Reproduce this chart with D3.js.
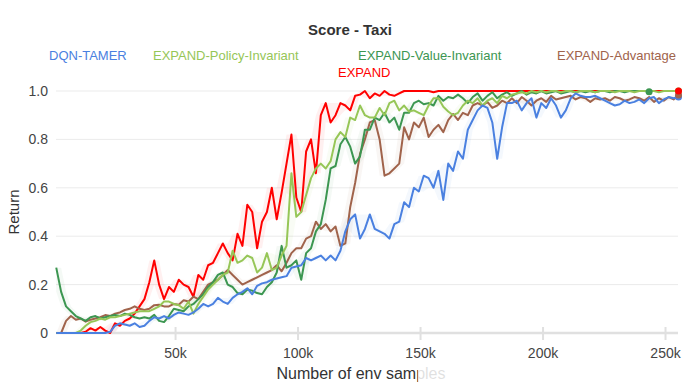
<!DOCTYPE html>
<html lang="en">
<head>
<meta charset="UTF-8">
<title>Score - Taxi</title>
<style>
body { margin: 0; background: #fff; }
text { font-family: "Liberation Sans", Arial, sans-serif; }
.grid line { stroke: #ebebeb; stroke-width: 1px; }
.line { fill: none; stroke-width: 2px; stroke-linejoin: round; }
</style>
</head>
<body>
<svg id="main" width="700" height="392"></svg>
<script src="https://cdn.jsdelivr.net/npm/d3@7/dist/d3.min.js"></script>
<script>
// env samples, one point every 2k
var samples = d3.range(128).map(function(i) { return 1500 + i * 2000; });

var yTicks = [0, 0.2, 0.4, 0.6, 0.8, 1.0];
var xTicks = [50000, 100000, 150000, 200000, 250000];

var dqnTamer = [
    0, 0, 0, 0, 0, 0, 0, 0, 0, 0, 0, 0.005, 0.03, 0.04, 0.035, 0.03,
    0.04, 0.025, 0.03, 0.05, 0.065, 0.06, 0.07, 0.06, 0.075, 0.085, 0.08, 0.075, 0.085, 0.1, 0.12, 0.11,
    0.12, 0.145, 0.13, 0.12, 0.145, 0.16, 0.17, 0.185, 0.16, 0.195, 0.205, 0.21, 0.22, 0.225, 0.23, 0.235,
    0.27, 0.275, 0.28, 0.31, 0.3, 0.31, 0.32, 0.3, 0.32, 0.3, 0.34, 0.42, 0.47, 0.49, 0.39, 0.43,
    0.49, 0.43, 0.42, 0.41, 0.39, 0.45, 0.46, 0.54, 0.52, 0.6, 0.585, 0.65, 0.64, 0.6, 0.67, 0.55,
    0.7, 0.67, 0.75, 0.72, 0.84, 0.88, 0.92, 0.94, 0.93, 0.87, 0.72, 0.85, 0.95, 0.95, 0.96, 0.92,
    0.95, 0.97, 0.89, 0.95, 0.93, 0.97, 0.94, 0.89, 0.92, 0.97, 0.99, 0.98, 0.975, 0.975, 0.98, 0.97,
    0.96, 0.95, 0.94, 0.945, 0.96, 0.95, 0.955, 0.965, 0.95, 0.97, 0.975, 0.95, 0.965, 0.975, 0.97, 0.975
];

var policyInv = [
    0, 0, 0, 0, 0, 0.01, 0.03, 0.045, 0.05, 0.06, 0.055, 0.065, 0.065, 0.07, 0.075, 0.08,
    0.085, 0.09, 0.09, 0.09, 0.1, 0.11, 0.13, 0.13, 0.12, 0.115, 0.1, 0.13, 0.08, 0.12, 0.15, 0.18,
    0.2, 0.22, 0.24, 0.25, 0.34, 0.29, 0.3, 0.32, 0.31, 0.25, 0.27, 0.33, 0.26, 0.27, 0.32, 0.36,
    0.66, 0.48, 0.5, 0.57, 0.64, 0.68, 0.7, 0.68, 0.71, 0.8, 0.83, 0.81, 0.89, 0.88, 0.94, 0.9,
    0.89, 0.89, 0.93, 0.9, 0.95, 0.96, 0.92, 0.94, 0.915, 0.92, 0.91, 0.9, 0.94, 0.97, 0.97, 0.935,
    0.915, 0.9, 0.91, 0.94, 0.96, 0.95, 0.97, 0.94, 0.96, 0.97, 0.95, 0.98, 0.97, 0.985, 0.99, 0.995,
    0.99, 1, 0.995, 1, 0.995, 1, 1, 0.995, 1, 1, 0.995, 1, 1, 1, 0.995, 1,
    1, 1, 0.995, 1, 1, 1, 0.995, 1, 1, 1, 1, 0.995, 1, 1, 1, 1
];

var valueInv = [
    0.27, 0.17, 0.11, 0.09, 0.07, 0.06, 0.05, 0.065, 0.07, 0.06, 0.065, 0.07, 0.075, 0.07, 0.08, 0.075,
    0.065, 0.06, 0.065, 0.06, 0.075, 0.05, 0.045, 0.07, 0.1, 0.095, 0.09, 0.11, 0.12, 0.14, 0.16, 0.19,
    0.21, 0.24, 0.25, 0.2, 0.19, 0.165, 0.16, 0.18, 0.175, 0.165, 0.16, 0.19, 0.21, 0.25, 0.36, 0.27,
    0.28, 0.3, 0.22, 0.33, 0.35, 0.42, 0.45, 0.55, 0.68, 0.69, 0.78, 0.81, 0.77, 0.7, 0.73, 0.84,
    0.84, 0.89, 0.88, 0.91, 0.87, 0.89, 0.84, 0.91, 0.91, 0.95, 0.96, 0.945, 0.95, 0.94, 0.98, 0.96,
    0.975, 0.97, 0.985, 0.97, 0.95, 0.975, 0.99, 0.96, 0.98, 0.995, 0.97, 0.985, 0.995, 0.98, 0.99, 1,
    0.985, 0.995, 0.99, 1, 0.99, 0.995, 1, 0.99, 0.995, 1, 0.995, 1, 0.995, 1, 0.995, 1,
    1, 0.995, 1, 1, 0.995, 1, 1, 1, 1, 0.997, null, null, null, null, null, null
];

var advantage = [
    0, 0, 0.05, 0.07, 0.055, 0.06, 0.047, 0.055, 0.06, 0.065, 0.074, 0.07, 0.08, 0.085, 0.095, 0.1,
    0.11, 0.1, 0.095, 0.1, 0.115, 0.117, 0.11, 0.11, 0.12, 0.117, 0.135, 0.13, 0.15, 0.14, 0.17, 0.2,
    0.21, 0.22, 0.24, 0.26, 0.24, 0.22, 0.2, 0.21, 0.22, 0.23, 0.24, 0.25, 0.26, 0.28, 0.255, 0.29,
    0.33, 0.35, 0.35, 0.39, 0.4, 0.46, 0.43, 0.45, 0.42, 0.44, 0.36, 0.37, 0.52, 0.62, 0.74, 0.8,
    0.87, 0.88, 0.8, 0.65, 0.66, 0.68, 0.7, 0.85, 0.8, 0.87, 0.85, 0.89, 0.81, 0.84, 0.86, 0.83,
    0.88, 0.905, 0.88, 0.91, 0.9, 0.94, 0.95, 0.94, 0.955, 0.93, 0.94, 0.96, 0.95, 0.97, 0.95, 0.975,
    0.96, 0.94, 0.96, 0.97, 0.955, 0.98, 0.965, 0.97, 0.975, 0.98, 0.965, 0.975, 0.97, 0.955, 0.97, 0.965,
    0.97, 0.96, 0.975, 0.97, 0.96, 0.965, 0.975, 0.97, 0.96, 0.975, 0.955, 0.97, 0.96, 0.975, 0.965, 0.983
];

var expand = [
    0, 0, 0, 0, 0, 0, 0.005, 0.02, 0.01, 0.025, 0.01, 0, 0.04, 0.03, 0.05, 0.06,
    0.08, 0.11, 0.14, 0.21, 0.3, 0.2, 0.14, 0.19, 0.17, 0.22, 0.2, 0.19, 0.15, 0.24, 0.22, 0.28,
    0.29, 0.33, 0.37, 0.33, 0.3, 0.41, 0.36, 0.53, 0.5, 0.35, 0.46, 0.5, 0.6, 0.47, 0.58, 0.7,
    0.82, 0.56, 0.5, 0.75, 0.8, 0.66, 0.9, 0.95, 0.87, 0.9, 0.95, 0.94, 0.92, 0.98, 0.985, 1,
    0.97, 0.99, 0.98, 1, 0.985, 0.98, 0.99, 1, 1, 1, 1, 1, 1, 0.995, 1, 1,
    1, 1, 1, 1, 1, 1, 1, 1, 1, 1, 1, 1, 1, 1, 1, 1,
    1, 1, 1, 1, 1, 1, 1, 1, 1, 1, 1, 1, 1, 1, 1, 1,
    1, 1, 1, 1, 1, 1, 1, 1, 1, 1, 1, 1, 1, 1, 1, 1
];

var series = [
    { name: "DQN-TAMER", color: "#4a80e0", values: dqnTamer },
    { name: "EXPAND-Policy-Invariant", color: "#96c657", values: policyInv },
    { name: "EXPAND-Value-Invariant", color: "#3c9651", values: valueInv },
    { name: "EXPAND-Advantage", color: "#a0634b", values: advantage },
    { name: "EXPAND", color: "#ff0000", values: expand }
];

// legend slots (layout only)
var legendPos = [[49, 55], [153, 55], [358, 55], [557, 55], [338, 72]];

var svg = d3.select("#main");

var x = d3.scaleLinear().domain([1400, 255500]).range([56, 678.5]);
var y = d3.scaleLinear().domain([0, 1]).range([333, 91]);

// grid
svg.append("g").attr("class", "grid")
    .selectAll("line").data(yTicks.filter(function(d) { return d > 0; }))
    .enter().append("line")
    .attr("x1", 56).attr("x2", 678)
    .attr("y1", function(d) { return y(d); })
    .attr("y2", function(d) { return y(d); });

// title
svg.append("text")
    .attr("x", 350).attr("y", 30).attr("dy", "0.35em")
    .attr("text-anchor", "middle")
    .style("font-size", "15px").style("font-weight", "bold")
    .style("fill", "#333")
    .text("Score - Taxi");

// legend
svg.append("g").selectAll("text").data(series)
    .enter().append("text")
    .attr("x", function(d, i) { return legendPos[i][0]; })
    .attr("y", function(d, i) { return legendPos[i][1]; })
    .attr("dy", "0.35em")
    .style("font-size", "13px")
    .style("fill", function(d) { return d.color; })
    .text(function(d) { return d.name; });

// spread band from neighbouring samples
var pts = series.map(function(s) {
    return samples.map(function(k, i) {
        var w = [];
        for (var j = Math.max(0, i - 1); j <= Math.min(samples.length - 1, i + 1); j++) {
            if (s.values[j] != null) w.push(s.values[j]);
        }
        return { k: k, v: s.values[i], lo: d3.min(w), hi: d3.max(w) };
    });
});

var area = d3.area()
    .defined(function(d) { return d.v != null; })
    .x(function(d) { return x(d.k); })
    .y0(function(d) { return y(d.lo); })
    .y1(function(d) { return y(d.hi); });

var line = d3.line()
    .defined(function(d) { return d.v != null; })
    .x(function(d) { return x(d.k); })
    .y(function(d) { return y(d.v); });

// draw order: EXPAND at the bottom, DQN-TAMER on top
var order = [4, 3, 2, 1, 0];

svg.append("g").selectAll("path").data(order)
    .enter().append("path")
    .attr("d", function(i) { return area(pts[i]); })
    .style("fill", function(i) { return series[i].color; })
    .style("fill-opacity", 0.06)
    .style("stroke", "none");

// x axis
var xAxis = d3.axisBottom(x).tickValues(xTicks)
    .tickFormat(function(d) { return d / 1000 + "k"; })
    .tickSize(7);
var gx = svg.append("g").attr("transform", "translate(0,333)").call(xAxis);
gx.select(".domain").remove();
gx.selectAll(".tick line").attr("y1", -6).attr("y2", 7)
    .style("stroke", "#e0e0e0").style("stroke-width", 2);
gx.selectAll(".tick text").attr("y", 20).attr("dy", "0.35em")
    .style("font-size", "14px").style("fill", "#444")
    .style("font-family", '"Liberation Sans", Arial, sans-serif');
svg.append("line").attr("x1", 56).attr("x2", 678).attr("y1", 333).attr("y2", 333)
    .style("stroke", "#e0e0e0").style("stroke-width", 2.5);

// y axis labels
var yAxis = d3.axisLeft(y).tickValues(yTicks)
    .tickFormat(function(d) { return d === 0 ? "0" : d.toFixed(1); })
    .tickSize(0).tickPadding(8);
var gy = svg.append("g").attr("transform", "translate(56,0)").call(yAxis);
gy.select(".domain").remove();
gy.selectAll(".tick text")
    .style("font-size", "14px").style("fill", "#444")
    .style("font-family", '"Liberation Sans", Arial, sans-serif');

svg.append("g").selectAll("path.line").data(order)
    .enter().append("path")
    .attr("class", "line")
    .attr("d", function(i) { return line(pts[i]); })
    .style("stroke", function(i) { return series[i].color; });

// end markers
svg.append("g").selectAll("circle").data(series)
    .enter().append("circle")
    .attr("cx", function(d, i) {
        var p = pts[i].filter(function(q) { return q.v != null; });
        return x(p[p.length - 1].k);
    })
    .attr("cy", function(d, i) {
        var p = pts[i].filter(function(q) { return q.v != null; });
        return y(p[p.length - 1].v);
    })
    .attr("r", 3.5)
    .style("fill", function(d) { return d.color; });

// axis titles
svg.append("text")
    .attr("transform", "translate(14,212) rotate(-90)")
    .attr("dy", "0.35em")
    .attr("text-anchor", "middle")
    .style("font-size", "15px").style("fill", "#333")
    .text("Return");

svg.append("text")
    .attr("x", 361).attr("y", 373).attr("dy", "0.35em")
    .attr("text-anchor", "middle")
    .style("font-size", "16px").style("fill", "#333")
    .text("Number of env samples");

// faded overlay over the right part of the label
svg.append("rect")
    .attr("x", 418).attr("y", 362).attr("width", 275).attr("height", 21)
    .style("fill", "#fff").style("fill-opacity", 0.85);
</script>
</body>
</html>
